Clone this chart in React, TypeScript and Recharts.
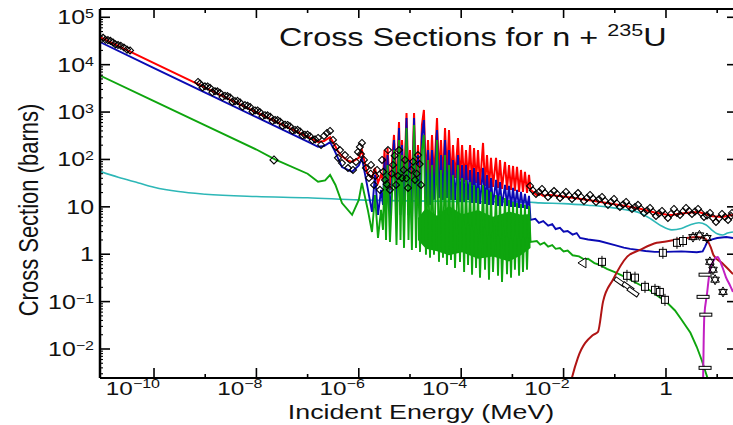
import React from 'react';
import { ComposedChart, Line, Area, XAxis, YAxis } from 'recharts';

type P = [number, number];

// ---------- axis ranges & ticks ----------
const X_MIN = 8.81e-12;
const X_MAX = 20.37;
const Y_MIN = 0.002443;
const Y_MAX = 149600;
const xTicks = [1e-10, 1e-9, 1e-8, 1e-7, 1e-6, 1e-5, 1e-4, 1e-3, 1e-2, 1e-1, 1, 10];
const yMajorTicks = [1e-2, 1e-1, 1, 10, 100, 1e3, 1e4, 1e5];
const yMinorTicks: number[] = [];
for (let k = -3; k <= 4; k++) {
  for (let m = 2; m <= 9; m++) {
    const v = m * Math.pow(10, k);
    if (v > Y_MIN && v < Y_MAX) yMinorTicks.push(v);
  }
}
const yTicks = [...yMajorTicks, ...yMinorTicks].sort((a, b) => a - b);

// ---------- thermal / low-energy region ----------
const totalThermal: P[] = [
  [8.81e-12, 38000], [1e-10, 10800], [1e-9, 3270], [1e-8, 990], [1e-7, 300], [1.6e-7, 234],
  [2.1e-7, 246], [2.75e-7, 296], [3.4e-7, 200], [3.9e-7, 150], [4.7e-7, 118], [6e-7, 95],
  [7.4e-7, 89], [1.0e-6, 108], [1.15e-6, 158], [1.45e-6, 52],
];
const fissionThermal: P[] = [
  [8.81e-12, 30000], [1e-10, 8500], [1e-9, 2580], [1e-8, 780], [1e-7, 237], [1.6e-7, 185],
  [2.1e-7, 192], [2.75e-7, 232], [3.4e-7, 150], [4.7e-7, 69], [7.4e-7, 55], [1.0e-6, 75],
  [1.15e-6, 107], [1.45e-6, 29],
];
const captureThermal: P[] = [
  [8.81e-12, 5900], [1e-10, 1700], [1e-9, 525], [1e-8, 162], [2.3e-8, 100], [1e-7, 50],
  [1.6e-7, 34], [2.2e-7, 36], [2.75e-7, 47], [3.5e-7, 29], [4.7e-7, 12], [7.4e-7, 6.8],
  [1.0e-6, 14], [1.15e-6, 32], [1.5e-6, 8.6],
];

// ---------- resolved resonance region (peak / trough pairs) ----------
const resE = [
  1.81e-6, 2.07e-6, 2.37e-6, 2.72e-6, 2.97e-6, 3.18e-6, 3.40e-6, 3.64e-6, 4.06e-6, 4.87e-6,
  5.45e-6, 6.10e-6, 6.52e-6, 6.98e-6, 7.64e-6, 8.55e-6, 9.35e-6, 1.0e-5, 1.09e-5, 1.20e-5,
  1.31e-5, 1.43e-5, 1.57e-5, 1.71e-5, 1.87e-5, 2.05e-5, 2.25e-5, 2.46e-5, 2.69e-5, 2.94e-5,
  3.37e-5, 3.68e-5, 4.03e-5, 4.41e-5, 4.83e-5, 5.28e-5, 5.78e-5, 6.32e-5, 6.92e-5, 7.57e-5,
  8.66e-5, 9.48e-5, 1.04e-4, 1.14e-4, 1.24e-4, 1.36e-4, 1.49e-4, 1.63e-4, 1.78e-4, 1.95e-4,
  2.13e-4, 2.33e-4, 2.67e-4, 2.92e-4, 3.19e-4, 3.49e-4, 3.82e-4, 4.18e-4, 4.79e-4, 5.24e-4,
  5.73e-4, 6.27e-4, 7.17e-4, 7.85e-4, 8.59e-4, 9.40e-4, 1.03e-3, 1.12e-3, 1.23e-3, 1.35e-3,
  1.47e-3, 1.61e-3, 1.76e-3, 1.93e-3, 2.11e-3, 2.26e-3,
];
const resTotal = [
  40.7, 66.2, 31.9, 47.1, 37, 158, 29, 175, 22.8, 329,
  22.8, 618, 29, 258, 22.8, 957, 29, 158, 17.8, 957,
  22.8, 202, 29, 535, 1107, 37, 258, 29, 329, 37,
  751, 47.1, 258, 37, 462, 47.1, 419, 37, 202, 40.7,
  284, 37, 202, 33.5, 158, 37, 202, 29, 175, 31.9,
  158, 29, 223, 27.6, 124, 25.1, 108, 26.3, 108, 25.1,
  97.5, 23.9, 88.5, 22.8, 76.5, 22.8, 72.9, 21.6, 69.5, 20.6,
  60, 20.6, 54.5, 19.6, 47.1, 22.8,
];
const resFission = [
  7.8, 47.1, 6.75, 22.8, 11, 108, 7.8, 124, 5.8, 258,
  5.3, 462, 6.75, 202, 5.3, 751, 6.75, 97.5, 4.15, 751,
  4.8, 124, 8.6, 329, 676, 11, 158, 11, 158, 14,
  419, 15.4, 124, 14, 258, 15.4, 158, 14, 97.5, 14,
  124, 12.7, 76.5, 12.7, 76.5, 14, 60, 12.1, 66.2, 12.1,
  54.5, 11.5, 66.2, 11.5, 47.1, 11, 40.7, 11, 37, 10.4,
  33.5, 10.4, 29, 10.4, 27.6, 9.95, 25.1, 9.95, 22.8, 9.48,
  20.6, 9.48, 18.7, 9.03, 17, 5.3,
];
const resCapture = [
  2.95, 17.8, 2.21, 8.6, 3.26, 60, 2.0, 76.5, 1.82, 158,
  1.57, 258, 2.0, 124, 1.36, 462, 2.0, 60, 1.23, 535,
  1.36, 76.5, 1.12, 158, 329, 0.97, 97.5, 0.84, 76.5, 0.97,
  258, 0.69, 60, 0.84, 124, 0.59, 76.5, 0.76, 47.1, 0.51,
  76.5, 0.69, 40.7, 0.42, 37, 0.59, 33.5, 0.37, 29, 0.51,
  25.1, 0.32, 29, 0.47, 22.8, 0.29, 20.6, 0.42, 17.8, 0.35,
  17, 0.26, 15.4, 0.38, 14, 0.32, 12.7, 0.47, 12.1, 0.35,
  11.5, 0.42, 11, 0.47, 10.4, 1.82,
];
// solid body of the dense capture forest
const bandE = [1.43e-5, 2.05e-5, 3.37e-5, 5.78e-5, 1.04e-4, 2.13e-4, 4.18e-4, 8.59e-4, 1.47e-3, 2.26e-3];
const bandHi = [5.83, 9.5, 6.5, 10.4, 7.0, 8.6, 6.2, 8.0, 6.8, 7.08];
const bandLo = [2.0, 1.3, 1.15, 0.95, 1.1, 0.8, 0.9, 0.7, 0.95, 1.36];

// ---------- fast region ----------
const totalFast: P[] = [
  [2.6e-3, 20], [3.0e-3, 17.5], [3.4e-3, 19], [4e-3, 17], [5e-3, 18], [0.01, 16.5], [0.03, 14],
  [0.07, 12.1], [0.15, 10.5], [0.3, 9.2], [0.6, 7.6], [1, 6.9], [1.3, 6.75], [2, 7.2], [3, 7.6],
  [4.4, 7.8], [6, 7.0], [8, 6.3], [12.7, 6.1], [16, 6.5], [20.37, 6.7],
];
const fissionFast: P[] = [
  [2.8e-3, 5.6], [3.3e-3, 4.6], [4e-3, 5.0], [5e-3, 4.0], [6e-3, 4.3], [7e-3, 3.4], [8.5e-3, 3.6],
  [0.01, 3.0], [0.012, 3.1], [0.015, 2.6], [0.018, 2.8], [0.021, 2.2], [0.03, 2.05], [0.05, 1.9],
  [0.1, 1.55], [0.15, 1.38], [0.2, 1.3], [0.4, 1.17], [0.6, 1.12], [1, 1.12], [2, 1.15], [4, 1.1],
  [5.2, 1.15], [5.8, 1.45], [6.5, 1.9], [8, 2.05], [10, 2.2], [15, 2.3], [20.37, 2.2],
];
const captureFast: P[] = [
  [3.0e-3, 1.9], [3.5e-3, 1.6], [4.2e-3, 1.75], [5e-3, 1.45], [6e-3, 1.55], [7e-3, 1.3],
  [8.5e-3, 1.35], [0.01, 1.15], [0.012, 1.2], [0.015, 0.95], [0.02, 0.9], [0.025, 0.78],
  [0.03, 0.8], [0.04, 0.65], [0.05, 0.6], [0.07, 0.49], [0.1, 0.42], [0.15, 0.34], [0.2, 0.29],
  [0.3, 0.23], [0.5, 0.17], [0.7, 0.13], [1, 0.1], [1.5, 0.065], [2, 0.042], [3, 0.022],
  [4, 0.011], [5, 0.0058], [6.5, 0.0024], [7, 0.0015],
];
const elastic: P[] = [
  [8.81e-12, 56], [2e-11, 42], [5e-11, 32], [1e-10, 26], [3e-10, 21], [1e-9, 18.5], [1e-8, 16.5],
  [1e-7, 15.5], [1e-6, 14], [1e-4, 13], [2.26e-3, 12.5], [3.4e-3, 12.1], [0.01, 11.7],
  [0.03, 10.8], [0.068, 10], [0.15, 8.8], [0.31, 7.4], [0.5, 5.6], [0.8, 4.0], [1.3, 3.26],
  [2, 3.5], [3, 4.2], [4.4, 4.6], [6, 4.2], [8, 3.2], [10, 2.7], [12.7, 2.55], [16, 2.8],
  [20.37, 2.95],
];
const inelastic: P[] = [
  [0.013, 0.0015], [0.0146, 0.0025], [0.019, 0.0065], [0.037, 0.0195], [0.047, 0.023],
  [0.059, 0.1], [0.092, 0.29], [0.175, 0.89], [0.31, 1.23], [0.66, 1.74], [1.0, 1.85],
  [1.86, 2.1], [4.0, 2.3], [5.5, 2.2], [6.5, 1.9], [7.5, 1.4], [8.5, 0.95], [12.5, 0.65],
  [20.37, 0.38],
];
const n2n: P[] = [
  [5.25, 0.001], [5.45, 0.015], [5.6, 0.048], [6.3, 0.14], [7.2, 0.45], [8.7, 0.76],
  [10.2, 0.87], [12, 0.62], [13.2, 0.47], [14.8, 0.33], [17.8, 0.22], [20.37, 0.16],
];

// ---------- experimental points ----------
const expTotal: P[] = [
  [1.01e-11, 37000], [1.13e-11, 33500], [1.26e-11, 33000], [1.41e-11, 31800], [1.58e-11, 29500],
  [1.77e-11, 26800], [1.98e-11, 26000], [2.25e-11, 25000], [2.59e-11, 23000], [2.97e-11, 20800],
  [3.40e-11, 20000],
  [7.23e-10, 4320], [7.91e-10, 4000], [8.85e-10, 3300], [9.9e-10, 3500], [1.11e-9, 3470],
  [1.24e-9, 3250], [1.38e-9, 2610], [1.55e-9, 2750], [1.73e-9, 2740], [1.94e-9, 2550],
  [2.17e-9, 2070], [2.44e-9, 2200], [2.72e-9, 2170], [3.05e-9, 2050], [3.40e-9, 1640],
  [3.82e-9, 1700], [4.27e-9, 1720], [4.79e-9, 1600], [5.35e-9, 1300], [5.99e-9, 1400],
  [6.70e-9, 1360], [7.50e-9, 1280], [8.39e-9, 1030], [9.39e-9, 1080], [1.05e-8, 1080],
  [1.17e-8, 1000], [1.31e-8, 815], [1.47e-8, 860], [1.65e-8, 853], [1.85e-8, 800],
  [2.07e-8, 645], [2.31e-8, 680], [2.59e-8, 675], [2.89e-8, 630], [3.24e-8, 510],
  [3.62e-8, 540], [4.06e-8, 535], [4.53e-8, 500], [5.08e-8, 404], [5.67e-8, 420],
  [6.36e-8, 423], [7.11e-8, 390], [7.96e-8, 319], [8.89e-8, 330], [9.97e-8, 335],
  [1.11e-7, 310], [1.25e-7, 253], [1.40e-7, 265],
  [1.60e-7, 284], [1.83e-7, 202], [2.09e-7, 313], [2.39e-7, 362], [2.74e-7, 399], [3.13e-7, 258],
  [3.59e-7, 184], [3.92e-7, 108], [4.29e-7, 158], [4.69e-7, 84], [5.37e-7, 124], [6.15e-7, 66],
  [6.73e-7, 97.5], [7.70e-7, 60], [8.82e-7, 88.5], [9.64e-7, 144], [1.05e-6, 184], [1.1e-6, 130],
  [1.15e-6, 223], [1.26e-6, 97.5], [1.38e-6, 66], [1.58e-6, 40.7], [1.7e-6, 50], [1.73e-6, 76.5],
  [1.98e-6, 29], [2.1e-6, 45], [2.27e-6, 60], [2.59e-6, 22.8], [2.84e-6, 97.5], [3.0e-6, 55],
  [3.25e-6, 37], [3.5e-6, 30], [3.72e-6, 158], [4.06e-6, 22.8], [4.4e-6, 50], [4.65e-6, 76.5],
  [5.0e-6, 120], [5.33e-6, 29], [5.8e-6, 45], [6.10e-6, 158], [6.98e-6, 40.7], [7.5e-6, 60],
  [7.98e-6, 97.5], [8.5e-6, 40], [9.14e-6, 25.1], [1.05e-5, 60], [1.15e-5, 90], [1.25e-5, 37],
  [1.35e-5, 50], [1.43e-5, 124], [1.55e-5, 80], [1.64e-5, 29],
  [2.21e-3, 27.6], [2.52e-3, 22.2], [2.89e-3, 18.7], [3.31e-3, 20.6], [3.78e-3, 23.9],
  [4.33e-3, 19.6], [4.96e-3, 16.2], [5.67e-3, 18.7], [6.49e-3, 21.6], [7.43e-3, 18.7],
  [8.51e-3, 15.4], [9.73e-3, 17.8], [0.0111, 20.6], [0.0127, 17.4], [0.0146, 14.7],
  [0.0167, 17.0], [0.0191, 19.6], [0.0219, 16.2], [0.025, 13.3], [0.0286, 15.4],
  [0.0328, 17.8], [0.0375, 15.0], [0.043, 12.7], [0.0491, 14.4], [0.0562, 16.2],
  [0.0644, 13.3], [0.0736, 11.0], [0.0843, 12.7], [0.0964, 14.7], [0.110, 11.8],
  [0.126, 9.95], [0.145, 11.2], [0.166, 12.7], [0.189, 10.4], [0.217, 9.03], [0.248, 9.95],
  [0.284, 11.0], [0.325, 9.03], [0.372, 7.43], [0.426, 8.4], [0.487, 9.48], [0.557, 7.8],
  [0.638, 6.43], [0.730, 7.25], [0.835, 8.2], [0.956, 6.9], [1.09, 5.83], [1.25, 7.08],
  [1.43, 9.03], [1.64, 7.43], [1.88, 6.75], [2.15, 8.0], [2.46, 9.48], [2.81, 8.2],
  [3.22, 7.08], [3.68, 8.0], [4.22, 9.03], [4.83, 7.43], [5.52, 6.12], [6.32, 6.6],
  [7.23, 7.43], [8.28, 5.83], [9.48, 4.8], [10.8, 5.7], [12.4, 7.08], [14.2, 6.12],
  [16.3, 5.3], [18.6, 6.43], [19.5, 7.43],
];
const expCaptureDiamond: P[] = [[2.2e-8, 97.5]];
const expBoxes: P[] = [
  [0.0562, 0.69], [0.173, 0.35], [0.248, 0.32], [0.389, 0.205], [0.61, 0.177], [0.76, 0.16],
  [0.955, 0.109], [0.87, 1.07], [1.64, 1.74], [2.15, 1.9],
];
const expSlants: P[] = [[0.126, 0.26], [0.181, 0.205], [0.227, 0.16]];
const expTriangles: P[] = [[0.0239, 0.656]];
const expStars: P[] = [[3.37, 2.3], [4.5, 2.5], [6.3, 2.2], [7.2, 0.69], [8.3, 0.47], [9.1, 0.29], [13, 0.16]];
const expDashes: P[] = [[5.8, 0.37], [5.3, 0.126], [6.0, 0.053], [5.8, 0.004]];

// ---------- build tables ----------
const rows = (pts: P[]) => pts.map(([e, s]) => ({ e, s }));
const zip = (es: number[], ss: number[]) => es.map((e, i) => ({ e, s: ss[i] }));
const totalData = [...rows(totalThermal), ...zip(resE, resTotal), ...rows(totalFast)];
const fissionData = [...rows(fissionThermal), ...zip(resE, resFission), ...rows(fissionFast)];
const captureData = [...rows(captureThermal), ...zip(resE, resCapture), ...rows(captureFast)];
const bandData = bandE.map((e, i) => ({ e, lo: bandLo[i], hi: bandHi[i] }));

// ---------- styles ----------
const FONT = '"Liberation Sans", Arial, Helvetica, sans-serif';
const SX = 1.28;
const RED = '#ff0000';
const BLUE = '#0a0ab4';
const GREEN = '#0ea50e';
const CYAN = '#2db7b7';
const DARKRED = '#b01414';
const MAGENTA = '#c21fc2';
const INK = '#111';

const log10 = (v: number) => Math.log10(v);

function BottomTick(props: any) {
  const { x, y, payload } = props;
  const n = Math.round(log10(payload.value));
  const major = n % 2 === 0;
  return (
    <g>
      <line x1={x} y1={y} x2={x} y2={y - (major ? 10 : 4)} stroke="#000" strokeWidth={1.6} />
      {major && n === 0 && (
        <g transform={`translate(${x},${y + 17}) scale(${SX},1)`}>
          <text textAnchor="middle" fontFamily={FONT} fontSize={19} fill={INK}>1</text>
        </g>
      )}
      {major && n !== 0 && (
        <g transform={`translate(${x + 6},${y + 17}) scale(${SX},1)`}>
          <text textAnchor="end" fontFamily={FONT} fontSize={19} fill={INK}>
            10<tspan fontSize={12.5} dy={-7}>{`\u2212${-n}`}</tspan>
          </text>
        </g>
      )}
    </g>
  );
}

function TopTick(props: any) {
  const { x, y, payload } = props;
  const n = Math.round(log10(payload.value));
  const major = n % 2 === 0;
  return <line x1={x} y1={y} x2={x} y2={y + (major ? 9 : 4)} stroke="#000" strokeWidth={1.6} />;
}

function LeftTick(props: any) {
  const { x, y, payload } = props;
  const l = log10(payload.value);
  const n = Math.round(l);
  const major = Math.abs(l - n) < 1e-6;
  let label: React.ReactNode = null;
  if (major) {
    const content =
      n === 0 ? '1' : n === 1 ? '10' : (
        <>
          10<tspan fontSize={12.5} dy={-6}>{n < 0 ? `\u2212${-n}` : `${n}`}</tspan>
        </>
      );
    label = (
      <g transform={`translate(${x - 6},${y + 7}) scale(${SX},1)`}>
        <text textAnchor="end" fontFamily={FONT} fontSize={19.5} fill={INK}>{content}</text>
      </g>
    );
  }
  return (
    <g>
      <line x1={x} y1={y} x2={x + (major ? 10 : 3)} y2={y} stroke="#000" strokeWidth={major ? 1.6 : 1.1} />
      {label}
    </g>
  );
}

function RightTick(props: any) {
  const { x, y, payload } = props;
  const l = log10(payload.value);
  if (Math.abs(l - Math.round(l)) > 1e-6) return <g />;
  return <line x1={x} y1={y} x2={x - 6} y2={y} stroke="#000" strokeWidth={1.6} />;
}

// ---------- marker shapes ----------
const mk = (render: (cx: number, cy: number) => React.ReactNode) => (p: any) => (
  <g key={`m${p.index}`}>{p.cx == null || p.cy == null ? null : render(p.cx, p.cy)}</g>
);
const diamond = (r: number) => mk((cx, cy) => (
  <path d={`M${cx},${cy - r}L${cx + r},${cy}L${cx},${cy + r}L${cx - r},${cy}Z`} fill="none" stroke="#000" strokeWidth={1.1} />
));
const box = mk((cx, cy) => (
  <g>
    <rect x={cx - 3.5} y={cy - 3.5} width={7} height={7} fill="#fff" stroke="#000" strokeWidth={1} />
    <line x1={cx} y1={cy - 6} x2={cx} y2={cy + 6} stroke="#000" strokeWidth={1} />
  </g>
));
const slant = mk((cx, cy) => (
  <rect x={cx - 6} y={cy - 2} width={12} height={4} fill="#fff" stroke="#000" strokeWidth={1} transform={`rotate(35 ${cx} ${cy})`} />
));
const tri = mk((cx, cy) => (
  <path d={`M${cx - 5},${cy}L${cx + 3},${cy - 5}L${cx + 3},${cy + 5}Z`} fill="#fff" stroke="#000" strokeWidth={1} />
));
const star = mk((cx, cy) => (
  <path d={`M${cx},${cy - 5}L${cx + 4.3},${cy + 2.5}L${cx - 4.3},${cy + 2.5}Z M${cx},${cy + 5}L${cx + 4.3},${cy - 2.5}L${cx - 4.3},${cy - 2.5}Z`} fill="none" stroke="#000" strokeWidth={1} />
));
const dash = mk((cx, cy) => (
  <rect x={cx - 6} y={cy - 1.5} width={12} height={3} fill="#fff" stroke="#000" strokeWidth={1} />
));

const common = { xAxisId: 'b', yAxisId: 'l', isAnimationActive: false, legendType: 'none' as const, activeDot: false as const };

export default function App() {
  return (
    <div style={{ position: 'absolute', left: 0, top: 0, width: 733, height: 425, overflow: 'hidden', background: '#fff' }}>
      <ComposedChart width={735} height={425} margin={{ top: 7, right: 0, bottom: 45, left: 98 }}>
        <XAxis
          xAxisId="b" dataKey="e" type="number" scale="log" domain={[X_MIN, X_MAX]} allowDataOverflow
          ticks={xTicks} interval={0} tick={(p: any) => <BottomTick {...p} />} tickLine={false}
          tickSize={0} tickMargin={0} height={2} axisLine={{ stroke: '#000', strokeWidth: 2 }}
        />
        <XAxis
          xAxisId="t" orientation="top" dataKey="e" type="number" scale="log" domain={[X_MIN, X_MAX]}
          allowDataOverflow ticks={xTicks} interval={0} tick={(p: any) => <TopTick {...p} />}
          tickLine={false} tickSize={0} tickMargin={0} height={2} axisLine={{ stroke: '#000', strokeWidth: 2 }}
        />
        <YAxis
          yAxisId="l" type="number" scale="log" domain={[Y_MIN, Y_MAX]} allowDataOverflow ticks={yTicks}
          interval={0} tick={(p: any) => <LeftTick {...p} />} tickLine={false} tickSize={0} tickMargin={0}
          width={2} axisLine={{ stroke: '#000', strokeWidth: 2.5 }}
        />
        <YAxis
          yAxisId="r" orientation="right" type="number" scale="log" domain={[Y_MIN, Y_MAX]} allowDataOverflow
          ticks={yMajorTicks} interval={0} tick={(p: any) => <RightTick {...p} />} tickLine={false}
          tickSize={0} tickMargin={0} width={2} axisLine={false}
        />

        <Line {...common} data={rows(expTotal)} dataKey="s" stroke="none" dot={diamond(3.5)} />
        <Line {...common} data={rows(elastic)} dataKey="s" type="monotone" stroke={CYAN} strokeWidth={1.6} dot={false} />
        <Area {...common} data={bandData} dataKey={(d: any) => [d.lo, d.hi]} type="linear" stroke="none" fill={GREEN} fillOpacity={1} />
        <Line {...common} data={totalData} dataKey="s" type="linear" stroke={RED} strokeWidth={2} dot={false} />
        <Line {...common} data={fissionData} dataKey="s" type="linear" stroke={BLUE} strokeWidth={1.9} dot={false} />
        <Line {...common} data={captureData} dataKey="s" type="linear" stroke={GREEN} strokeWidth={1.9} dot={false} />
        <Line {...common} data={rows(inelastic)} dataKey="s" type="monotone" stroke={DARKRED} strokeWidth={2} dot={false} />
        <Line {...common} data={rows(n2n)} dataKey="s" type="monotone" stroke={MAGENTA} strokeWidth={2} dot={false} />
        <Line {...common} data={rows(expCaptureDiamond)} dataKey="s" stroke="none" dot={diamond(4)} />
        <Line {...common} data={rows(expBoxes)} dataKey="s" stroke="none" dot={box} />
        <Line {...common} data={rows(expSlants)} dataKey="s" stroke="none" dot={slant} />
        <Line {...common} data={rows(expTriangles)} dataKey="s" stroke="none" dot={tri} />
        <Line {...common} data={rows(expStars)} dataKey="s" stroke="none" dot={star} />
        <Line {...common} data={rows(expDashes)} dataKey="s" stroke="none" dot={dash} />
      </ComposedChart>
      <svg width={733} height={425} style={{ position: 'absolute', left: 0, top: 0, pointerEvents: 'none' }}>
        <g transform="translate(279,46) scale(1.27,1)">
          <text fontFamily={FONT} fontSize={25.5} fill={INK}>
            {'Cross Sections for n + '}
            <tspan fontSize={17} dy={-10}>235</tspan>
            <tspan dy={10}>U</tspan>
          </text>
        </g>
        <g transform="translate(421,419) scale(1.34,1)">
          <text textAnchor="middle" fontFamily={FONT} fontSize={20} fill={INK}>Incident Energy (MeV)</text>
        </g>
        <g transform={`translate(38,210) rotate(-90) scale(1,${SX})`}>
          <text textAnchor="middle" fontFamily={FONT} fontSize={22} fill={INK}>Cross Section (barns)</text>
        </g>
      </svg>
    </div>
  );
}
